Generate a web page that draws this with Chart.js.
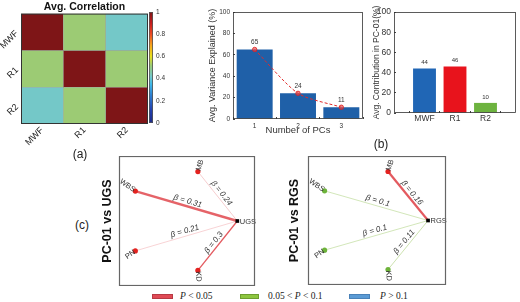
<!DOCTYPE html>
<html>
<head>
<meta charset="utf-8">
<script src="https://cdn.jsdelivr.net/npm/chart.js@4.4.1/dist/chart.umd.min.js"></script>
<style>
  html, body { margin: 0; padding: 0; background: #fff; }
  #fig { position: relative; width: 520px; height: 302px; overflow: hidden; font-family: Arial, "Liberation Sans", sans-serif; }
  #fig canvas { position: absolute; }
  .tag { position: absolute; font-size: 12px; color: #222; transform: translate(-50%, -50%); line-height: 1; }
  .sw { position: absolute; height: 5px; top: 294px; box-sizing: border-box; }
  .lg { position: absolute; top: 291px; font: 9.5px "Liberation Serif", "DejaVu Serif", serif; color: #222; white-space: nowrap; }
</style>
</head>
<body>
<div id="fig">
  <canvas id="heat" width="150" height="150" style="left:0;top:0"></canvas>
  <canvas id="cbar" width="45" height="135" style="left:140px;top:0"></canvas>
  <canvas id="pcs" width="172" height="137" style="left:195px;top:0"></canvas>
  <canvas id="contrib" width="165" height="125" style="left:355px;top:0"></canvas>
  <canvas id="ugs" width="164" height="130" style="left:97px;top:156px"></canvas>
  <canvas id="rgs" width="166" height="129" style="left:286px;top:156px"></canvas>
  <div class="tag" style="left:80px;top:154px">(a)</div>
  <div class="tag" style="left:381px;top:144px">(b)</div>
  <div class="tag" style="left:82px;top:225px">(c)</div>
  <div id="legend"></div>
</div>
<script>
// (a) average correlation matrix
const corrLabels = ['MWF', 'R1', 'R2'];
const corrMWF = [1, 0.52, 0.42];
const corrR1 = [0.52, 1, 0.52];
const corrR2 = [0.42, 0.52, 1];
const colorbarTicks = [0, 0.2, 0.4, 0.6, 0.8, 1];

// (b) variance explained per PC and contribution to PC-01
const pcLabels = ['1', '2', '3'];
const varianceExplained = [65, 24, 11];
const contribLabels = ['MWF', 'R1', 'R2'];
const contribPC01 = [44, 46, 10];

// (c) path diagrams
const nodeNames = ['MB', 'WBS', 'PN', 'KD'];
const nodeX = [5.8, 1.2, 1.2, 5.8];
const nodeY = [8.8, 7.3, 2.7, 1.2];
const hubX = 8.7;
const hubY = 5.0;
const ugsBeta = [0.24, 0.31, 0.21, 0.3];
const ugsPClass = [0, 0, 0, 0];
const rgsBeta = [0.16, 0.1, 0.1, 0.11];
const rgsPClass = [0, 1, 1, 1];
const pClassLabels = ['P < 0.05', '0.05 < P < 0.1', 'P > 0.1'];

// styles
const cmapStops = [
  [0, '#1c2a86'], [0.12, '#2341b0'], [0.25, '#2e7fd0'], [0.35, '#3fb8e8'],
  [0.42, '#74c8c8'], [0.52, '#9ccb74'], [0.6, '#e9e01e'], [0.7, '#f6a51e'],
  [0.8, '#ec4a23'], [0.9, '#c61d1e'], [1, '#7e1517']
];
const classRGB = [[224, 72, 78], [128, 184, 58], [91, 155, 213]];
const classNode = ['#e3221f', '#6db33a', '#3f7fc8'];
const ugsEdgeAlpha = [0.35, 0.85, 0.3, 0.9];
const ugsEdgeWidth = [0.8, 2.4, 0.8, 1.3];
const rgsEdgeAlpha = [0.9, 0.4, 0.4, 0.45];
const rgsEdgeWidth = [2.2, 0.9, 0.9, 0.9];
const nodeLabelStyle = {
  MB: { rot: -72, align: 'left' },
  WBS: { rot: 35, align: 'right' },
  PN: { rot: -35, align: 'right' },
  KD: { rot: 85, align: 'left' }
};

Chart.defaults.font.family = 'Arial, "Liberation Sans", sans-serif';
Chart.defaults.color = '#333';
Chart.defaults.animation = false;
Chart.defaults.responsive = false;
Chart.defaults.plugins.legend.display = false;
Chart.defaults.plugins.tooltip.enabled = false;

function hexToRgb(h) {
  return [1, 3, 5].map((i) => parseInt(h.slice(i, i + 2), 16));
}

function corrColor(v) {
  for (let i = 1; i < cmapStops.length; i++) {
    const [t1, c1] = cmapStops[i];
    const [t0, c0] = cmapStops[i - 1];
    if (v <= t1) {
      const f = (v - t0) / (t1 - t0);
      const a = hexToRgb(c0), b = hexToRgb(c1);
      return 'rgb(' + a.map((x, k) => Math.round(x + (b[k] - x) * f)).join(',') + ')';
    }
  }
  return cmapStops[cmapStops.length - 1][1];
}

const framePlugin = {
  id: 'frame',
  afterDraw(chart, args, opts) {
    const a = chart.chartArea;
    const ctx = chart.ctx;
    ctx.save();
    ctx.strokeStyle = opts.color || '#333';
    ctx.lineWidth = opts.width || 1;
    ctx.strokeRect(a.left + 0.5, a.top + 0.5, a.width - 1, a.height - 1);
    ctx.restore();
  }
};

const valueLabels = {
  id: 'valueLabels',
  afterDatasetsDraw(chart, args, opts) {
    const ds = chart.data.datasets[opts.dataset];
    const meta = chart.getDatasetMeta(opts.dataset);
    const ctx = chart.ctx;
    ctx.save();
    ctx.font = opts.size + 'px Arial, "Liberation Sans", sans-serif';
    ctx.fillStyle = '#333';
    ctx.textAlign = 'center';
    ctx.textBaseline = 'bottom';
    meta.data.forEach((el, i) => {
      const d = ds.data[i];
      const v = typeof d === 'object' ? d.y : d;
      ctx.fillText(String(v), el.x, el.y - opts.offset);
    });
    ctx.restore();
  }
};

function inwardTicks() {
  return { drawOnChartArea: false, drawTicks: true, tickLength: -2, color: '#444' };
}

// ---- (a) heatmap ----
const corrRows = [corrMWF, corrR1, corrR2];
new Chart(document.getElementById('heat'), {
  type: 'bar',
  data: {
    labels: corrLabels,
    datasets: corrRows.map((row, r) => ({
      data: row.map(() => [r, r + 1]),
      backgroundColor: row.map((v) => corrColor(v)),
      borderColor: 'rgba(90,110,90,0.45)',
      borderWidth: 0.6,
      borderSkipped: false,
      barPercentage: 1,
      categoryPercentage: 1,
      grouped: false
    }))
  },
  options: {
    layout: { padding: { left: 0, right: 2, top: 0, bottom: 0 }, autoPadding: false },
    plugins: {
      title: { display: true, text: 'Avg. Correlation', fullSize: false, color: '#111',
        font: { size: 10.5, weight: 'bold' }, padding: { top: 0.5, bottom: 0.5 } },
      frame: { color: '#333', width: 1 }
    },
    scales: {
      x: {
        ticks: { minRotation: 45, maxRotation: 45, font: { size: 9 }, color: '#222', padding: 1, autoSkip: false },
        grid: { display: false, drawTicks: false }, border: { display: false },
        afterFit: (s) => { s.height = 26; }
      },
      y: { display: false, min: 0, max: 3, reverse: true },
      yl: {
        type: 'category', labels: corrLabels, position: 'left', offset: true,
        ticks: { minRotation: 45, maxRotation: 45, font: { size: 9 }, color: '#222', padding: 4, autoSkip: false },
        grid: { display: false, drawTicks: false }, border: { display: false },
        afterFit: (s) => { s.width = 21; }
      }
    }
  },
  plugins: [framePlugin]
});

// colorbar
new Chart(document.getElementById('cbar'), {
  type: 'bar',
  data: {
    labels: [''],
    datasets: [{
      data: [[colorbarTicks[0], colorbarTicks[colorbarTicks.length - 1]]],
      backgroundColor: (c) => {
        const a = c.chart.chartArea;
        if (!a) return '#fff';
        const g = c.chart.ctx.createLinearGradient(0, a.bottom, 0, a.top);
        cmapStops.forEach(([t, col]) => g.addColorStop(t, col));
        return g;
      },
      borderWidth: 0,
      barPercentage: 1,
      categoryPercentage: 1
    }]
  },
  options: {
    layout: { padding: { left: 9, right: 0, top: 12, bottom: 12 }, autoPadding: false },
    plugins: { frame: { color: '#555', width: 0.8 } },
    scales: {
      x: { display: false },
      y: {
        position: 'right', min: 0, max: 1,
        afterBuildTicks: (s) => { s.ticks = colorbarTicks.map((v) => ({ value: v })); },
        ticks: { font: { size: 6.5 }, color: '#333', padding: 3, autoSkip: false, callback: (v) => String(v) },
        grid: { display: false, drawTicks: false }, border: { display: false },
        afterFit: (s) => { s.width = 32; }
      }
    }
  },
  plugins: [framePlugin]
});

// ---- (b) variance explained ----
new Chart(document.getElementById('pcs'), {
  type: 'bar',
  data: {
    labels: pcLabels,
    datasets: [
      {
        type: 'line', data: varianceExplained, order: 0,
        borderColor: '#e02a2a', borderWidth: 1, borderDash: [3, 2], tension: 0.25,
        pointRadius: 2.2, pointBackgroundColor: 'rgba(232,70,70,0.65)',
        pointBorderColor: '#e02020', pointBorderWidth: 0.8
      },
      {
        type: 'bar', data: varianceExplained, order: 1,
        backgroundColor: '#1f60a8', barPercentage: 0.83, categoryPercentage: 1
      }
    ]
  },
  options: {
    layout: { padding: { left: 0, right: 4, top: 12, bottom: 0 }, autoPadding: false },
    plugins: {
      frame: { color: '#333', width: 0.8 },
      valueLabels: { dataset: 1, offset: 4, size: 6.5 }
    },
    scales: {
      x: {
        ticks: { font: { size: 6.5 }, color: '#333', padding: 5, autoSkip: false },
        grid: inwardTicks(), border: { display: false },
        title: { display: true, text: 'Number of PCs', font: { size: 9.5 }, color: '#333', padding: { top: 0, bottom: 1.3 } },
        afterFit: (s) => { s.height = 18; }
      },
      y: {
        min: 0, max: 100,
        ticks: { stepSize: 20, font: { size: 6.5 }, color: '#333', padding: 5, autoSkip: false },
        grid: inwardTicks(), border: { display: false },
        title: { display: true, text: 'Avg. Variance Explained (%)', font: { size: 9 }, color: '#333', padding: { top: 12.6, bottom: 0 } },
        afterFit: (s) => { s.width = 38; }
      }
    }
  },
  plugins: [framePlugin, valueLabels]
});

// ---- (b) contribution in PC-01 ----
new Chart(document.getElementById('contrib'), {
  type: 'bar',
  data: {
    datasets: [{
      data: contribPC01.map((v, i) => ({ x: i + 1, y: v })),
      backgroundColor: ['#2066b5', '#e8131c', '#6db33f'],
      barPercentage: 0.75, categoryPercentage: 1
    }]
  },
  options: {
    layout: { padding: { left: 0, right: 4, top: 12, bottom: 0 }, autoPadding: false },
    plugins: {
      frame: { color: '#333', width: 0.8 },
      valueLabels: { dataset: 0, offset: 3, size: 6 }
    },
    scales: {
      x: {
        type: 'linear', offset: false, min: 0, max: contribLabels.length + 1,
        afterBuildTicks: (s) => { s.ticks = contribLabels.map((_, i) => ({ value: i + 1 })); },
        ticks: { font: { size: 8.5 }, color: '#333', padding: 3, autoSkip: false, callback: (v) => contribLabels[v - 1] },
        grid: inwardTicks(), border: { display: false },
        afterFit: (s) => { s.height = 12; }
      },
      y: {
        type: 'linear', position: 'left', min: 0, max: 100,
        ticks: { stepSize: 20, font: { size: 8.5 }, color: '#333', padding: 5, autoSkip: false },
        grid: inwardTicks(), border: { display: false },
        title: { display: true, text: 'Avg. Contribution in PC-01(%)', font: { size: 8.5 }, color: '#333', padding: { top: 16.9, bottom: 0 } },
        afterFit: (s) => { s.width = 39; }
      }
    }
  },
  plugins: [framePlugin, valueLabels]
});

// ---- (c) path diagrams ----
const pathLabels = {
  id: 'pathLabels',
  afterDatasetsDraw(chart, args, opts) {
    const ctx = chart.ctx;
    const xs = chart.scales.x, ys = chart.scales.y;
    const hx = xs.getPixelForValue(hubX), hy = ys.getPixelForValue(hubY);
    ctx.save();
    ctx.fillStyle = '#333';
    nodeNames.forEach((name, i) => {
      const nx = xs.getPixelForValue(nodeX[i]), ny = ys.getPixelForValue(nodeY[i]);
      // beta along the edge
      ctx.save();
      ctx.translate((nx + hx) / 2, (ny + hy) / 2);
      ctx.rotate(Math.atan2(hy - ny, hx - nx));
      ctx.font = 'italic 8px Arial, "Liberation Sans", sans-serif';
      ctx.textAlign = 'center';
      ctx.textBaseline = 'bottom';
      ctx.fillText('\u03b2 = ' + opts.beta[i], 0, -1);
      ctx.restore();
      // node name
      const st = nodeLabelStyle[name];
      ctx.save();
      ctx.translate(nx, ny);
      ctx.rotate(st.rot * Math.PI / 180);
      ctx.font = '7.5px Arial, "Liberation Sans", sans-serif';
      ctx.textAlign = st.align;
      ctx.textBaseline = 'middle';
      ctx.fillText(name, st.align === 'left' ? 1 : -1, 0);
      ctx.restore();
    });
    ctx.font = '7.5px Arial, "Liberation Sans", sans-serif';
    ctx.textAlign = 'left';
    ctx.textBaseline = 'middle';
    ctx.fillText(opts.hub, hx + 2.5, hy + 0.5);
    ctx.restore();
  }
};

function pathChart(id, hub, beta, pClass, edgeAlpha, edgeWidth, titlePad) {
  const nodes = {
    data: nodeX.map((x, i) => ({ x, y: nodeY[i] })),
    pointRadius: 2.6, pointBorderWidth: 0,
    pointBackgroundColor: pClass.map((c) => classNode[c]),
    clip: false
  };
  const hubSet = {
    data: [{ x: hubX, y: hubY }], pointStyle: 'rect', pointRadius: 2.6,
    pointBackgroundColor: '#000', pointBorderWidth: 0, clip: false
  };
  const edges = nodeX.map((x, i) => ({
    data: [{ x: hubX, y: hubY }, { x, y: nodeY[i] }],
    showLine: true, pointRadius: 0,
    borderColor: 'rgba(' + classRGB[pClass[i]].join(',') + ',' + edgeAlpha[i] + ')',
    borderWidth: edgeWidth[i], clip: false
  }));
  return new Chart(document.getElementById(id), {
    type: 'scatter',
    data: { datasets: [hubSet, nodes].concat(edges) },
    options: {
      layout: { padding: { left: 0, right: 6, top: 0, bottom: 0 }, autoPadding: false },
      plugins: {
        frame: { color: '#666', width: 1.2 },
        pathLabels: { beta, hub }
      },
      scales: {
        x: { display: false, min: 0, max: 10 },
        y: {
          min: 0, max: 10,
          ticks: { display: false }, grid: { display: false }, border: { display: false },
          title: { display: true, text: 'PC-01 vs ' + hub, color: '#111',
            font: { size: 12.5, weight: 'bold' }, padding: { top: titlePad, bottom: 0 } },
          afterFit: (s) => { s.width = 22; }
        }
      }
    },
    plugins: [framePlugin, pathLabels]
  });
}

pathChart('ugs', 'UGS', ugsBeta, ugsPClass, ugsEdgeAlpha, ugsEdgeWidth, 3.5);
pathChart('rgs', 'RGS', rgsBeta, rgsPClass, rgsEdgeAlpha, rgsEdgeWidth, 1.5);

// legend
const legendSwatch = [[152, 21], [240, 19], [349, 21]];
const legendText = [180, 268, 380];
const swatchFill = ['#e04a55', '#8dc63f', '#5b9bd5'];
const swatchEdge = ['#b83a44', '#6e9e30', '#4a82b8'];
document.getElementById('legend').innerHTML = pClassLabels.map((t, i) =>
  '<div class="sw" style="left:' + legendSwatch[i][0] + 'px;width:' + legendSwatch[i][1] +
  'px;background:' + swatchFill[i] + ';border:1px solid ' + swatchEdge[i] + '"></div>' +
  '<div class="lg" style="left:' + legendText[i] + 'px">' + t.replace('P', '<i>P</i>') + '</div>'
).join('');
</script>
</body>
</html>
